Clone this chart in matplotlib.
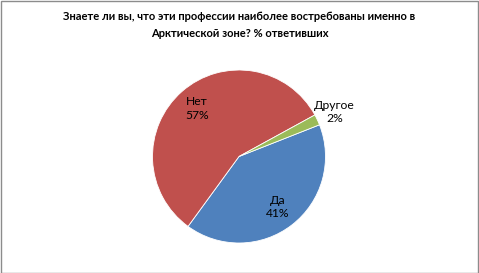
import numpy as np
import matplotlib
matplotlib.use("Agg")
import matplotlib.pyplot as plt
from matplotlib.patches import Rectangle

labels = ["Да", "Нет", "Другое"]
values = [41, 57, 2]
colors = ["#4F81BD", "#C0504D", "#9BBB59"]
title = "Знаете ли вы, что эти профессии наиболее востребованы именно в\nАрктической зоне? % ответивших"

plt.rcParams['font.family'] = ['Lato', 'DejaVu Sans']

W, H = 479, 273
fig = plt.figure(figsize=(W / 100, H / 100), dpi=100)
fig.patch.set_facecolor("white")
fig.patches.append(Rectangle((0.5 / W, 0.5 / H), 1 - 1.5 / W, 1 - 1.5 / H,
                             transform=fig.transFigure, fill=False,
                             edgecolor="#8C8C8C", linewidth=1))

cx, cy, r = 239, 273 - 156.5, 86.5
ax = fig.add_axes([(cx - r) / W, (cy - r) / H, 2 * r / W, 2 * r / H])
wedges, _ = ax.pie(values, colors=colors, startangle=21.5, counterclock=False,
                   radius=1, wedgeprops=dict(edgecolor="white", linewidth=0.6))
ax.set_xlim(-1, 1)
ax.set_ylim(-1, 1)
ax.axis("off")

dists = [0.74, 0.74, 1.22]
total = sum(values)
for w, lab, v, d in zip(wedges, labels, values, dists):
    ang = np.deg2rad((w.theta1 + w.theta2) / 2)
    ax.text(d * np.cos(ang), d * np.sin(ang), f"{lab}\n{round(100 * v / total)}%",
            ha="center", va="center", fontsize=8.7, color="#000000",
            linespacing=1.25)

fig.text(0.5, 1 - 25 / H, title, ha="center", va="center", fontsize=8,
         fontweight="bold", linespacing=1.6)

fig.savefig("out.png", dpi=100)
